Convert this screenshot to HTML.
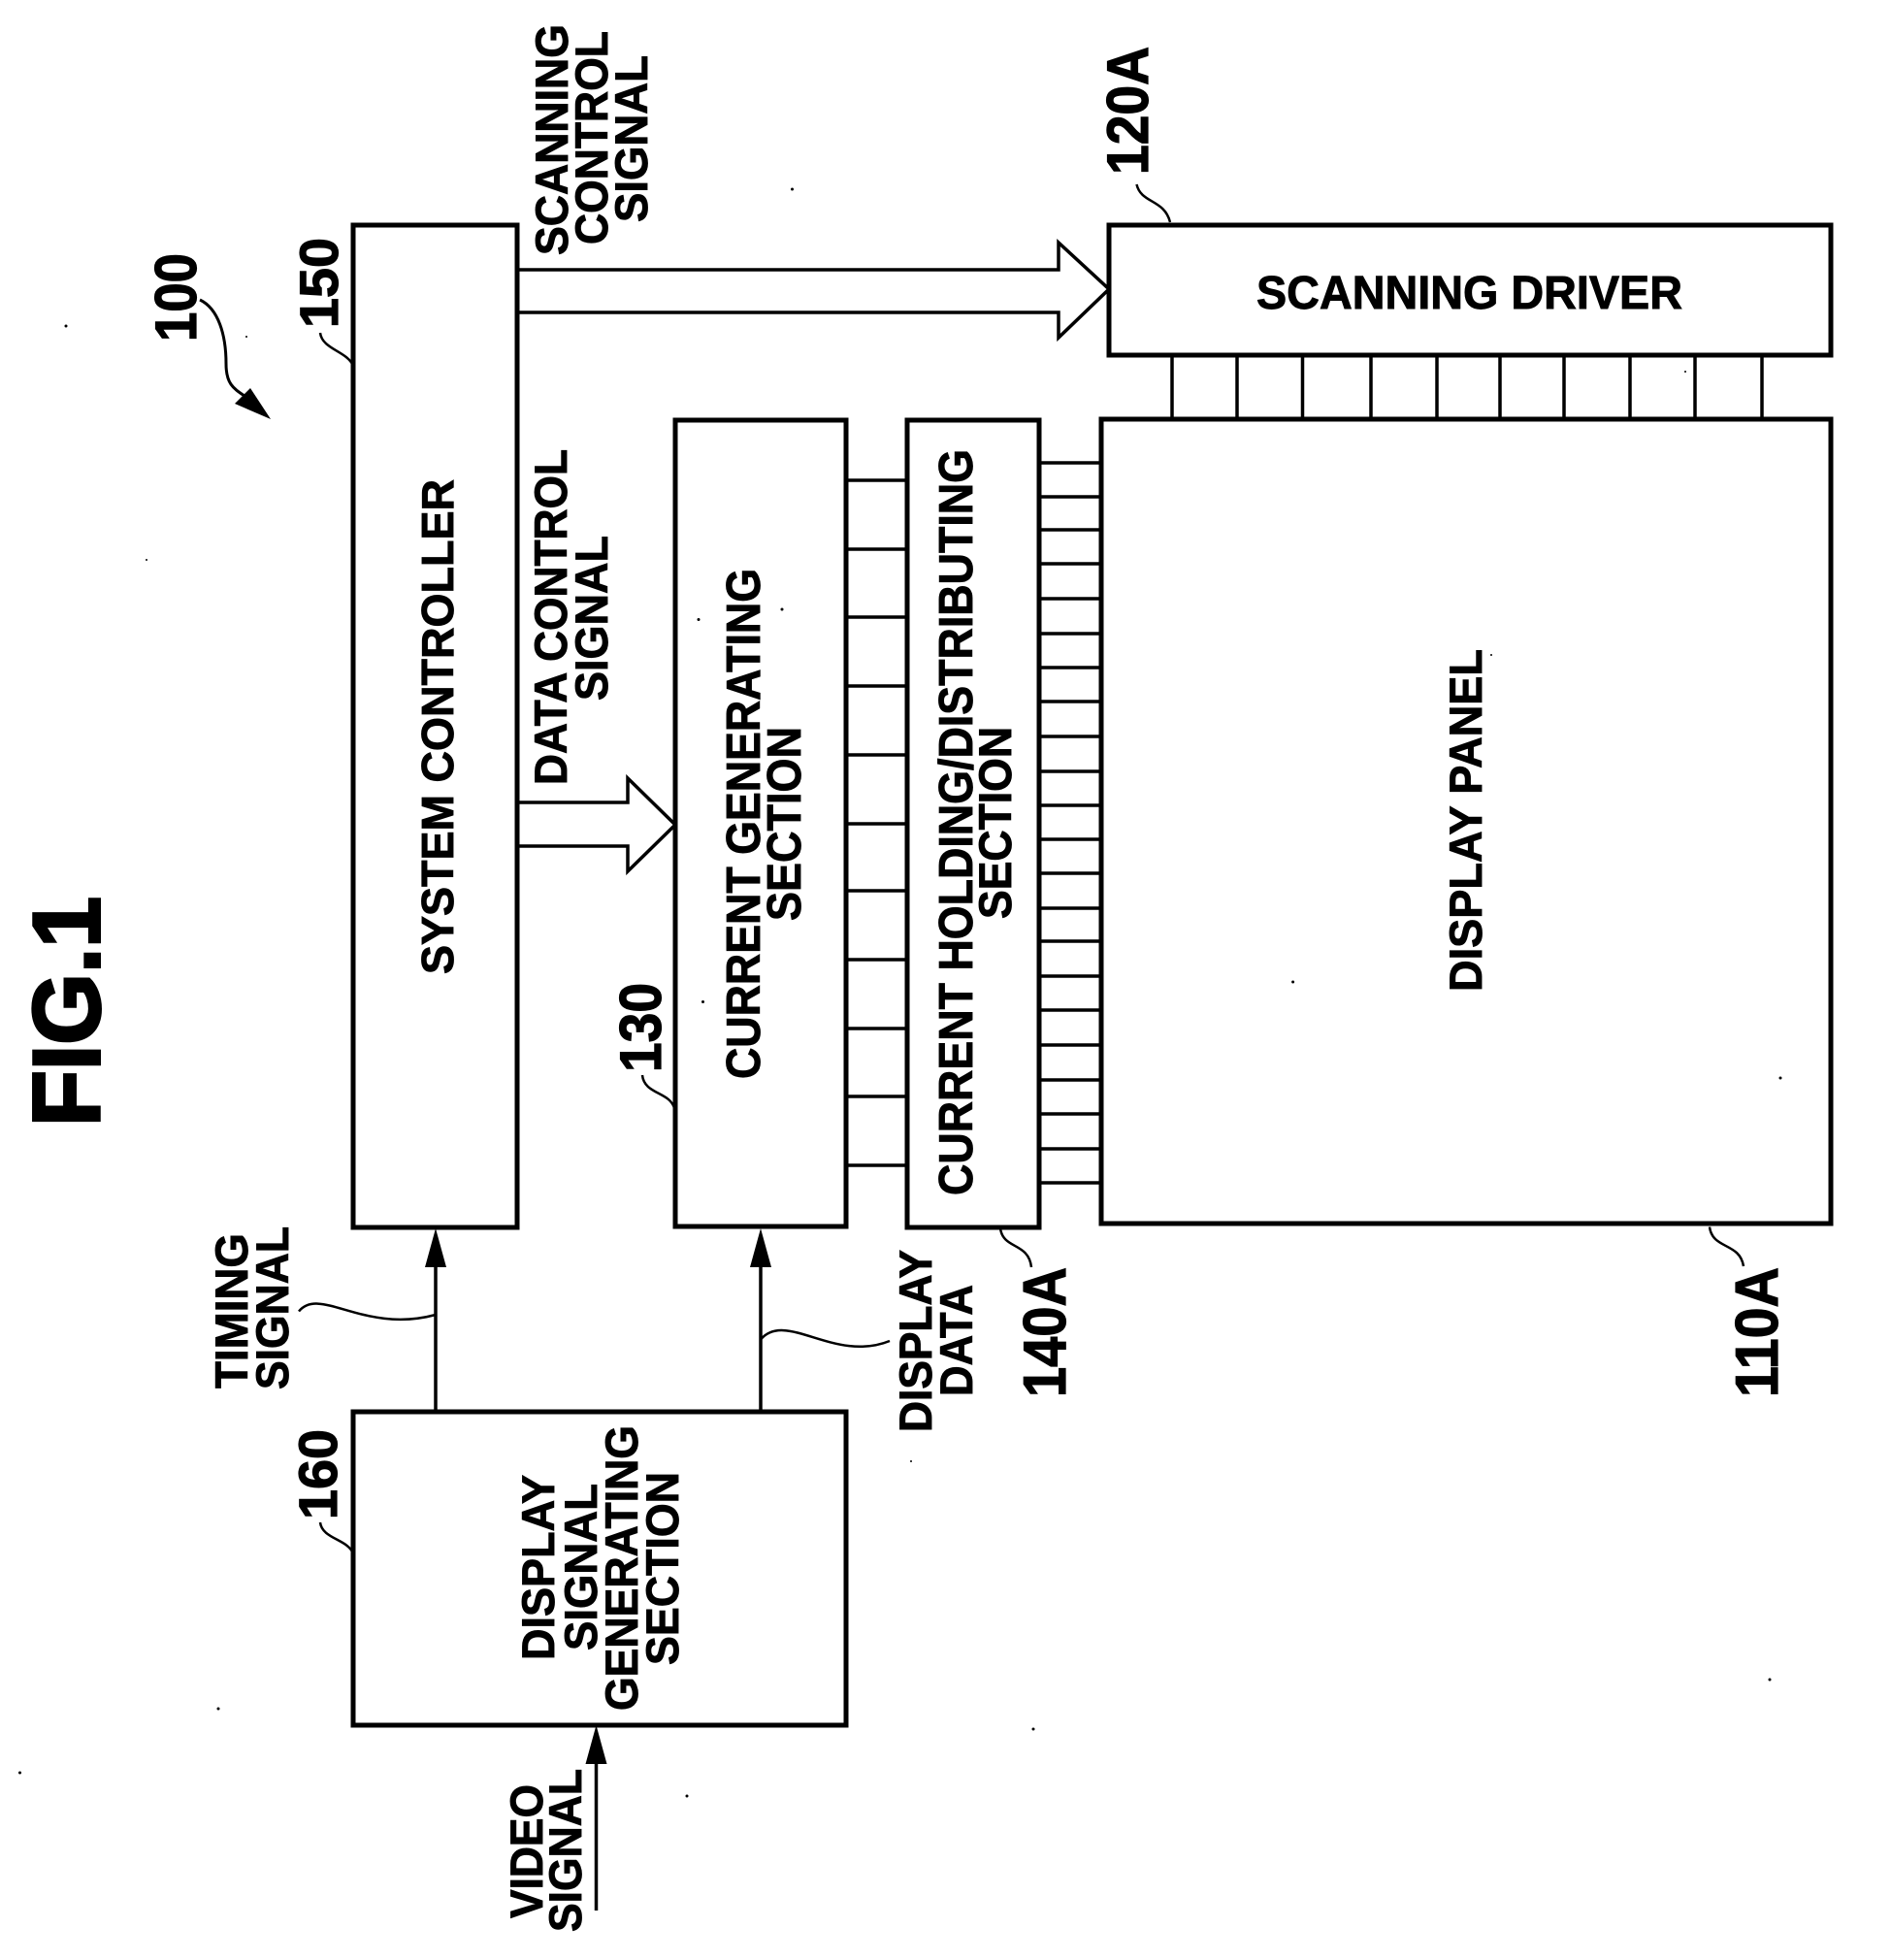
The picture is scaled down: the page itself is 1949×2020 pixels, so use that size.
<!DOCTYPE html>
<html><head><meta charset="utf-8"><style>
html,body{margin:0;padding:0;background:#fff}
svg{display:block}
text{font-family:"Liberation Sans",Arial,sans-serif;font-weight:bold;fill:#000;stroke:#000;stroke-width:.9px}
</style></head><body>
<svg xmlns="http://www.w3.org/2000/svg" width="1949" height="2020" viewBox="0 0 1949 2020">
<rect width="1949" height="2020" fill="#fff"/>
<g fill="none" stroke="#000" stroke-width="3.500">
<path d="M938 495H872M938 566H872M938 636H872M938 707H872M938 778H872M938 849H872M938 918H872M938 989H872M938 1060H872M938 1130H872M938 1201H872"/>
<path d="M1135 477H1071M1135 512H1071M1135 546H1071M1135 581H1071M1135 617H1071M1135 653H1071M1135 688H1071M1135 723H1071M1135 759H1071M1135 795H1071M1135 830H1071M1135 865H1071M1135 900H1071M1135 936H1071M1135 970H1071M1135 1006H1071M1135 1041H1071M1135 1077H1071M1135 1113H1071M1135 1148H1071M1135 1184H1071M1135 1219H1071"/>
<path d="M1208 366V432M1275 366V432M1342.500 366V432M1413 366V432M1481 366V432M1546 366V432M1612 366V432M1680 366V432M1747 366V432M1816 366V432"/>
<path d="M533 278H1091V250L1143 298L1091 348V322H533"/>
<path d="M533 827H647V802L696 850L647 898V872H533"/>
<path d="M449 1455V1300M784 1455V1300M614.500 1969V1810"/>
</g>
<g fill="#000">
<path d="M449 1266L438 1306H460Z"/>
<path d="M784 1266L773 1306H795Z"/>
<path d="M614.500 1778L603.500 1818H625.500Z"/>
<path d="M279 432L242 416L258 400Z"/>
</g>
<g fill="#fff" stroke="#000" stroke-width="5">
<rect x="364" y="232" width="169" height="1033"/>
<rect x="696" y="433" width="176" height="831"/>
<rect x="935" y="433" width="136" height="832"/>
<rect x="1135" y="432" width="752" height="829"/>
<rect x="1143" y="232" width="744" height="134"/>
<rect x="364" y="1455" width="508" height="323"/>
</g>
<g fill="none" stroke="#000" stroke-width="2.500">
<path d="M206 309C225 318 233 345 233 375C233 395 240 400 252 408" stroke-width="3"/>
<path d="M330 343C332 360 358 362 364 377"/>
<path d="M1171.500 190C1176 210 1200 205 1206 229"/>
<path d="M662 1108C664 1128 690 1125 695 1142"/>
<path d="M330 1569C332 1586 358 1586 364 1601"/>
<path d="M308 1351.500C330 1325 375 1375 449 1355"/>
<path d="M784 1380.500C810 1350 860 1405 917 1382"/>
<path d="M1031 1266C1034 1288 1060 1280 1063 1306"/>
<path d="M1762 1264.500C1765 1288 1793 1280 1797 1305"/>
</g>
<g fill="#000">
<circle cx="68" cy="336" r="1.500"/><circle cx="254" cy="347" r="1"/><circle cx="151" cy="577" r="1"/><circle cx="816.500" cy="195" r="1.500"/><circle cx="720" cy="638.500" r="1.500"/><circle cx="806" cy="628" r="1.500"/><circle cx="1537" cy="675" r="1"/><circle cx="1737" cy="383" r="1"/><circle cx="225" cy="1761" r="1.500"/><circle cx="20.500" cy="1827" r="1.500"/><circle cx="708" cy="1851" r="1.500"/><circle cx="939" cy="1506" r="1"/><circle cx="724.500" cy="1032.500" r="1.500"/><circle cx="1332.600" cy="1012" r="1.500"/><circle cx="1835" cy="1111" r="1.500"/><circle cx="1824" cy="1731" r="1.500"/><circle cx="1065" cy="1782" r="1.500"/>
</g>
<g>
<text transform="translate(102.500,1161) rotate(-90)" font-size="98" textLength="237" lengthAdjust="spacingAndGlyphs" style="stroke-width:3px">FIG.1</text>
<text transform="translate(202,352) rotate(-90)" font-size="60" textLength="91" lengthAdjust="spacingAndGlyphs" style="stroke-width:1.200px">100</text>
<text transform="translate(348,338) rotate(-90)" font-size="56" textLength="93" lengthAdjust="spacingAndGlyphs" style="stroke-width:1.200px">150</text>
<text transform="translate(681,1105) rotate(-90)" font-size="60" textLength="92" lengthAdjust="spacingAndGlyphs" style="stroke-width:1.200px">130</text>
<text transform="translate(347,1566) rotate(-90)" font-size="56" textLength="93" lengthAdjust="spacingAndGlyphs" style="stroke-width:1.200px">160</text>
<text transform="translate(1183,180) rotate(-90)" font-size="60" textLength="132" lengthAdjust="spacingAndGlyphs" style="stroke-width:1.200px">120A</text>
<text transform="translate(1098,1440) rotate(-90)" font-size="62" textLength="134" lengthAdjust="spacingAndGlyphs" style="stroke-width:1.200px">140A</text>
<text transform="translate(1832,1440) rotate(-90)" font-size="62" textLength="134" lengthAdjust="spacingAndGlyphs" style="stroke-width:1.200px">110A</text>

<text transform="translate(585,263) rotate(-90)" font-size="47" textLength="238" lengthAdjust="spacingAndGlyphs">SCANNING</text>
<text transform="translate(626,252) rotate(-90)" font-size="47" textLength="220" lengthAdjust="spacingAndGlyphs">CONTROL</text>
<text transform="translate(667,229) rotate(-90)" font-size="47" textLength="172" lengthAdjust="spacingAndGlyphs">SIGNAL</text>
<text transform="translate(467,1004) rotate(-90)" font-size="46" textLength="510" lengthAdjust="spacingAndGlyphs">SYSTEM CONTROLLER</text>
<text transform="translate(584,809) rotate(-90)" font-size="47" textLength="346" lengthAdjust="spacingAndGlyphs">DATA CONTROL</text>
<text transform="translate(626,722) rotate(-90)" font-size="47" textLength="170" lengthAdjust="spacingAndGlyphs">SIGNAL</text>
<text transform="translate(783,1112) rotate(-90)" font-size="49" textLength="526" lengthAdjust="spacingAndGlyphs">CURRENT GENERATING</text>
<text transform="translate(825,949) rotate(-90)" font-size="49" textLength="200" lengthAdjust="spacingAndGlyphs">SECTION</text>
<text transform="translate(1002,1232) rotate(-90)" font-size="49" textLength="769" lengthAdjust="spacingAndGlyphs">CURRENT HOLDING/DISTRIBUTING</text>
<text transform="translate(1042,947) rotate(-90)" font-size="47" textLength="198" lengthAdjust="spacingAndGlyphs">SECTION</text>
<text transform="translate(1527,1022) rotate(-90)" font-size="47" textLength="353" lengthAdjust="spacingAndGlyphs">DISPLAY PANEL</text>
<text x="1295" y="318" font-size="48" textLength="439" lengthAdjust="spacingAndGlyphs">SCANNING DRIVER</text>
<text transform="translate(255,1431) rotate(-90)" font-size="47" textLength="160" lengthAdjust="spacingAndGlyphs">TIMING</text>
<text transform="translate(297,1432) rotate(-90)" font-size="47" textLength="168" lengthAdjust="spacingAndGlyphs">SIGNAL</text>
<text transform="translate(960,1476) rotate(-90)" font-size="47" textLength="188" lengthAdjust="spacingAndGlyphs">DISPLAY</text>
<text transform="translate(1002,1439) rotate(-90)" font-size="47" textLength="115" lengthAdjust="spacingAndGlyphs">DATA</text>
<text transform="translate(571,1711) rotate(-90)" font-size="47" textLength="191" lengthAdjust="spacingAndGlyphs">DISPLAY</text>
<text transform="translate(615,1701) rotate(-90)" font-size="47" textLength="172" lengthAdjust="spacingAndGlyphs">SIGNAL</text>
<text transform="translate(657,1763) rotate(-90)" font-size="47" textLength="294" lengthAdjust="spacingAndGlyphs">GENERATING</text>
<text transform="translate(699,1716) rotate(-90)" font-size="47" textLength="199" lengthAdjust="spacingAndGlyphs">SECTION</text>
<text transform="translate(559,1977) rotate(-90)" font-size="47" textLength="138" lengthAdjust="spacingAndGlyphs">VIDEO</text>
<text transform="translate(599,1991) rotate(-90)" font-size="47" textLength="168" lengthAdjust="spacingAndGlyphs">SIGNAL</text>
</g>
</svg>
</body></html>
